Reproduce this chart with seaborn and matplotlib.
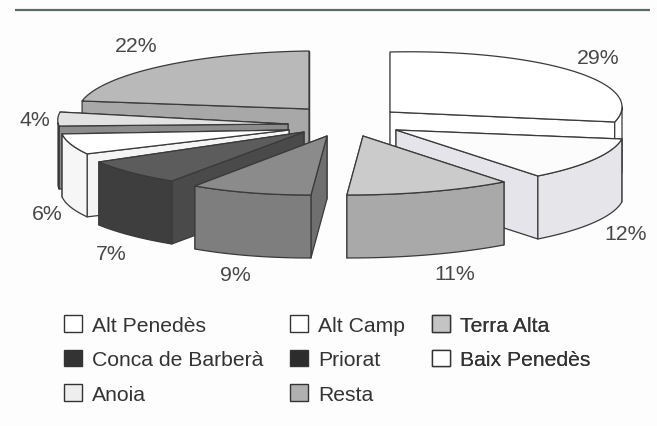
import numpy as np
import matplotlib
matplotlib.use("Agg")
import matplotlib.pyplot as plt
from matplotlib.patches import Patch
import seaborn as sns

# data
names = ["Alt Penedès", "Alt Camp", "Terra Alta", "Conca de Barberà", "Priorat",
         "Baix Penedès", "Anoia", "Resta"]
shares = [29, 12, 11, 9, 7, 6, 4, 22]
share_labels = ["29%", "12%", "11%", "9%", "7%", "6%", "4%", "22%"]

# styles
top_cols = ["#ffffff", "#fcfcfc", "#cbcbcb", "#8b8b8b", "#5c5c5c", "#ffffff", "#e2e2e2", "#b9b9b9"]
side_cols = ["#ffffff", "#e6e6ea", "#a9a9a9", "#7e7e7e", "#3e3e3e", "#f6f6f6", "#bdbdbd", "#a6a6a6"]
wall_cols = ["#ffffff", "#e4e4ea", "#a9a9a9", "#6f6f6f", "#4a4a4a", "#f4f4f4", "#8c8c8c", "#a8a8a8"]
legend_cols = ["#ffffff", "#ffffff", "#c4c4c4", "#333333", "#2c2c2c", "#ffffff", "#eeeeee", "#b0b0b0"]
# projection of each exploded slice: apex x, apex y, then matrix a, b, c, d
proj = [
    (390, 113, 232.0, 0.0, -5.1, 60.0),
    (396, 131, 227.0, 24.0, -5.6, 58.0),
    (363, 137, 240.7, 14.2, -6.6, 58.6),
    (327, 137, 221.4, 11.8, -7.7, 58.5),
    (304, 133, 238.9, 26.0, -5.3, 59.2),
    (289, 131, 228.0, 10.4, -0.5, 55.0),
    (288, 125, 230.0, 10.6, 1.5, 56.0),
    (309, 110, 231.0, 0.0, -2.9, 58.0),
]
depth = 63
order = [7, 0, 6, 5, 4, 3, 1, 2]
label_pos = [(598, 58), (626, 235), (455, 275), (235, 276), (111, 254), (47, 215), (35, 120), (136, 47)]

sns.set_theme(style="white")
plt.rcParams["font.family"] = ["Liberation Sans", "DejaVu Sans"]
fig = plt.figure(figsize=(6.57, 4.27), dpi=100, facecolor="#fdfdfd")
ax = fig.add_axes([0, 0, 1, 1])
ax.set_xlim(0, 657)
ax.set_ylim(427, 0)
ax.axis("off")

ax.plot([15, 650], [11, 11], color="#5d6b66", lw=1.6, solid_capstyle="butt")

edge = dict(edgecolor="#3a3a3a", linewidth=0.9, joinstyle="round")
bounds = np.cumsum([0] + shares) * 3.6


def project(i, theta):
    ax0, ay0, a, b, c, d = proj[i]
    t = np.radians(theta)
    s, u = np.sin(t), -np.cos(t)
    return ax0 + a * s + b * u, ay0 + c * s + d * u


for z, i in enumerate(order):
    t0, t1 = bounds[i], bounds[i + 1]
    ax0, ay0 = proj[i][:2]
    mid = (t0 + t1) / 2
    # radial walls: the one that faces the viewer last
    walls = [t0, t1] if mid < 180 else [t1, t0]
    for t in walls:
        x, y = project(i, t)
        ax.fill([ax0, x, x, ax0], [ay0, y, y + depth, ay0 + depth],
                facecolor=wall_cols[i], zorder=z * 10 + 1, **edge)
    # outer wall: only the part on the front half
    lo, hi = max(t0, 90), min(t1, 270)
    if hi > lo:
        th = np.linspace(lo, hi, 60)
        xs, ys = project(i, th)
        ax.fill(np.r_[xs, xs[::-1]], np.r_[ys, ys[::-1] + depth],
                facecolor=side_cols[i], zorder=z * 10 + 2, **edge)
    # top face
    th = np.linspace(t0, t1, 120)
    xs, ys = project(i, th)
    ax.fill(np.r_[ax0, xs], np.r_[ay0, ys],
            facecolor=top_cols[i], zorder=z * 10 + 3, **edge)

for lab, (x, y) in zip(share_labels, label_pos):
    ax.text(x, y, lab, ha="center", va="center", fontsize=15.3, color="#474747", zorder=200)

# legend, three columns
columns = [([0, 3, 6], 64), ([1, 4, 7], 290), ([2, 5], 432)]
for idx, anchor_x in columns:
    handles = [Patch(facecolor=legend_cols[i], edgecolor="#333333", linewidth=1.0,
                     label=names[i]) for i in idx]
    leg = ax.legend(handles=handles, loc="upper left", bbox_to_anchor=(anchor_x, 316),
                    bbox_transform=ax.transData, frameon=False, fontsize=15.2,
                    borderpad=0, borderaxespad=0, handlelength=0.85, handleheight=0.85,
                    handletextpad=0.47, labelspacing=0.7, labelcolor="#333333")
    ax.add_artist(leg)

fig.savefig("out.png", dpi=100, facecolor=fig.get_facecolor())
